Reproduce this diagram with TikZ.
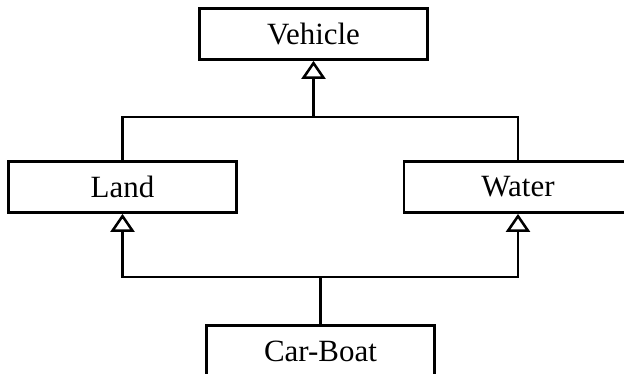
\documentclass[tikz,border=0pt]{standalone}
\usepackage{fontspec}
\setmainfont{Liberation Serif}
\usetikzlibrary{arrows.meta}

\begin{document}
\begin{tikzpicture}[x=0.025cm, y=-0.025cm, line width=1.8pt,
                every node/.style={draw,rectangle,minimum width=5.7cm,minimum height=1.28cm,
                                   inner sep=0pt,font=\fontsize{22}{26}\selectfont},
                isa/.style={-{Triangle[open,length=0.45cm,width=0.6cm]}}]
    \path[use as bounding box,clip] (0,0) rectangle (624,374);
    \node (vehicle) at (313.5,34) {Vehicle};
    \node (land) at (122.5,187) {Land};
    \node (water) at (518,187) {Water};
    \node (carboat) at (320.5,351) {Car-Boat};
    \coordinate (upper) at (313.5,117);
    \coordinate (lower) at (320.5,277);
    \draw[isa] (upper) -- (vehicle.south);
    \draw (land.north) |- (upper) -| (water.north);
    \draw (carboat.north) -- (lower);
    \draw[isa] (lower) -| (land.south);
    \draw[isa] (lower) -| (water.south);
\end{tikzpicture}
\end{document}
